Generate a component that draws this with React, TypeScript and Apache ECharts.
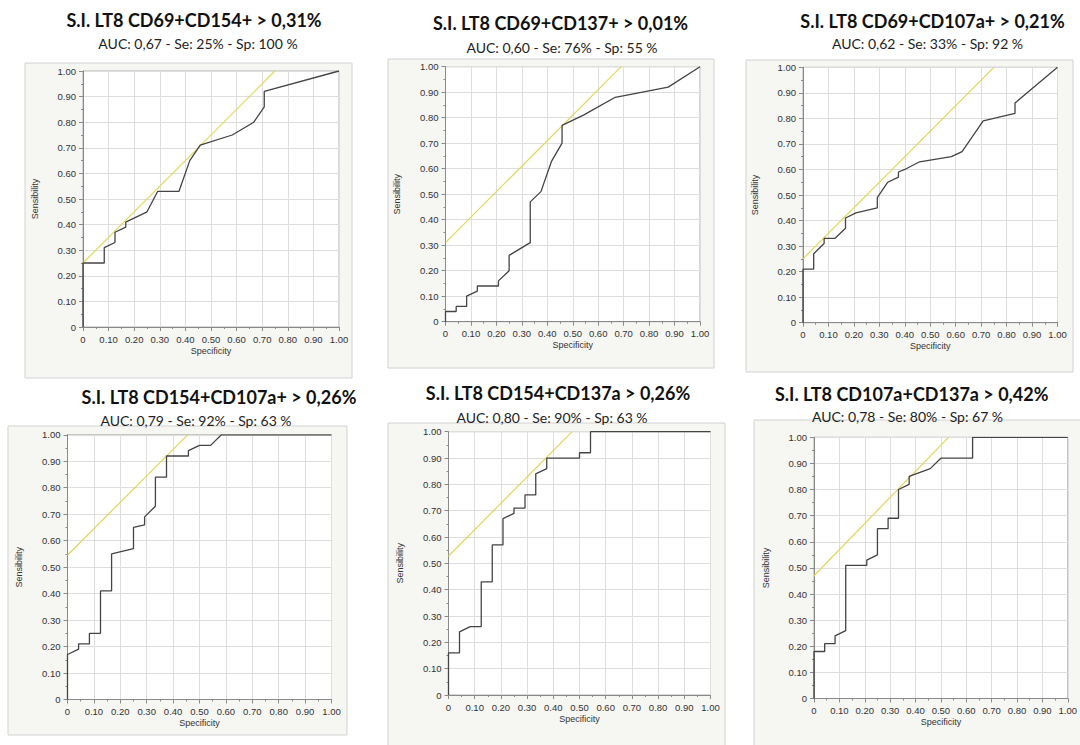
import React, { useEffect, useRef } from "react";
import * as echarts from "echarts";

const titles = [
  "S.I. LT8 CD69+CD154+ > 0,31%",
  "S.I. LT8 CD69+CD137+ > 0,01%",
  "S.I. LT8 CD69+CD107a+ > 0,21%",
  "S.I. LT8 CD154+CD107a+ > 0,26%",
  "S.I. LT8 CD154+CD137a > 0,26%",
  "S.I. LT8 CD107a+CD137a > 0,42%",
];
const subtitles = [
  "AUC: 0,67 - Se: 25% - Sp: 100 %",
  "AUC: 0,60 - Se: 76% - Sp: 55 %",
  "AUC: 0,62 - Se: 33% - Sp: 92 %",
  "AUC: 0,79 - Se: 92% - Sp: 63 %",
  "AUC: 0,80 - Se: 90% - Sp: 63 %",
  "AUC: 0,78 - Se: 80% - Sp: 67 %",
];

const roc1 = [
  [0, 0], [0, 0.25], [0.083, 0.25], [0.083, 0.31], [0.125, 0.33], [0.125, 0.37],
  [0.167, 0.39], [0.167, 0.41], [0.25, 0.45], [0.292, 0.53], [0.375, 0.53],
  [0.417, 0.65], [0.458, 0.71], [0.583, 0.75], [0.667, 0.8], [0.708, 0.86],
  [0.708, 0.92], [1, 1],
];
const roc2 = [
  [0, 0], [0, 0.04], [0.042, 0.04], [0.042, 0.06], [0.083, 0.06], [0.083, 0.1],
  [0.125, 0.12], [0.125, 0.14], [0.208, 0.14], [0.208, 0.16], [0.25, 0.2],
  [0.25, 0.26], [0.333, 0.31], [0.333, 0.47], [0.375, 0.51], [0.417, 0.63],
  [0.458, 0.7], [0.458, 0.77], [0.542, 0.81], [0.667, 0.88], [0.875, 0.92], [1, 1],
];
const roc3 = [
  [0, 0], [0, 0.21], [0.042, 0.21], [0.042, 0.27], [0.083, 0.31], [0.083, 0.33],
  [0.125, 0.33], [0.167, 0.37], [0.167, 0.41], [0.208, 0.43], [0.292, 0.45],
  [0.292, 0.49], [0.333, 0.55], [0.375, 0.57], [0.375, 0.59], [0.4, 0.6],
  [0.458, 0.63], [0.583, 0.65], [0.625, 0.67], [0.708, 0.79], [0.833, 0.82],
  [0.833, 0.86], [1, 1],
];
const roc4 = [
  [0, 0], [0, 0.17], [0.042, 0.19], [0.042, 0.21], [0.083, 0.21], [0.083, 0.25],
  [0.125, 0.25], [0.125, 0.41], [0.167, 0.41], [0.167, 0.55], [0.25, 0.57],
  [0.25, 0.65], [0.292, 0.66], [0.292, 0.69], [0.333, 0.73], [0.333, 0.84],
  [0.375, 0.84], [0.375, 0.92], [0.458, 0.92], [0.458, 0.94], [0.5, 0.96],
  [0.542, 0.96], [0.583, 1], [1, 1],
];
const roc5 = [
  [0, 0], [0, 0.16], [0.042, 0.16], [0.042, 0.24], [0.083, 0.26], [0.125, 0.26],
  [0.125, 0.43], [0.167, 0.43], [0.167, 0.57], [0.208, 0.57], [0.208, 0.67],
  [0.25, 0.69], [0.25, 0.71], [0.292, 0.71], [0.292, 0.76], [0.333, 0.76],
  [0.333, 0.84], [0.375, 0.86], [0.375, 0.9], [0.5, 0.9], [0.5, 0.92],
  [0.542, 0.92], [0.542, 1], [1, 1],
];
const roc6 = [
  [0, 0], [0, 0.18], [0.042, 0.18], [0.042, 0.21], [0.083, 0.21], [0.083, 0.24],
  [0.125, 0.26], [0.125, 0.51], [0.208, 0.51], [0.208, 0.53], [0.25, 0.55],
  [0.25, 0.65], [0.292, 0.65], [0.292, 0.69], [0.333, 0.69], [0.333, 0.8],
  [0.375, 0.82], [0.375, 0.85], [0.458, 0.88], [0.5, 0.92], [0.625, 0.92],
  [0.625, 1], [1, 1],
];
const rocs = [roc1, roc2, roc3, roc4, roc5, roc6];

// intercepts of the yellow tangent (slope 1) lines
const tangentIntercepts = [0.25, 0.31, 0.25, 0.545, 0.528, 0.47];

const axisTicks = [0, 0.1, 0.2, 0.3, 0.4, 0.5, 0.6, 0.7, 0.8, 0.9, 1];

// layout: box [x, y, w, h], grid [left, top, width, height], title [cx, cy], sub [cx, cy]
const LAYOUT = [
  { box: [25, 63, 327, 315], grid: [83, 71, 256, 256], title: [194, 20], sub: [198, 43] },
  { box: [388, 59, 326, 309], grid: [445.5, 66.7, 254.5, 255], title: [560.5, 23], sub: [562, 47.7] },
  { box: [746, 60, 327, 312], grid: [803, 67.3, 254.5, 255.4], title: [932.5, 20.7], sub: [927.5, 43.3] },
  { box: [8, 426, 339, 309], grid: [67.5, 434.8, 264, 264.7], title: [219, 396.7], sub: [196, 420] },
  { box: [388, 423, 337, 330], grid: [448.5, 431.7, 262, 263.3], title: [558, 393.3], sub: [552, 417.3] },
  { box: [754, 420, 340, 335], grid: [814, 437.3, 261, 261.2], title: [911.7, 394], sub: [907.5, 416.7] },
];

const AX_FONT = "'Liberation Sans', Arial, sans-serif";
const TITLE_FONT = "Lato, 'Open Sans', sans-serif";

export default function App() {
  const ref = useRef<HTMLDivElement>(null);
  useEffect(() => {
    if (!ref.current) return;
    const chart = echarts.init(ref.current, undefined, { renderer: "svg" });
    const fmt = (v: number) => (v === 0 ? "0" : v.toFixed(2));
    const grids: any[] = [];
    const xAxes: any[] = [];
    const yAxes: any[] = [];
    const series: any[] = [];
    const graphics: any[] = [];
    LAYOUT.forEach((L, i) => {
      graphics.push({
        type: "rect",
        z: -10,
        shape: { x: L.box[0], y: L.box[1], width: L.box[2], height: L.box[3] },
        style: { fill: "#f6f6f3", stroke: "#d2d2d2", lineWidth: 1 },
      });
      graphics.push({
        type: "text",
        x: L.title[0],
        y: L.title[1],
        style: {
          text: titles[i],
          fontFamily: TITLE_FONT,
          fontSize: 18,
          fontWeight: "bold",
          fill: "#111",
          textAlign: "center",
          textVerticalAlign: "middle",
        },
      });
      graphics.push({
        type: "text",
        x: L.sub[0],
        y: L.sub[1],
        style: {
          text: subtitles[i],
          fontFamily: TITLE_FONT,
          fontSize: 14,
          fill: "#222",
          textAlign: "center",
          textVerticalAlign: "middle",
        },
      });
      grids.push({
        left: L.grid[0],
        top: L.grid[1],
        width: L.grid[2],
        height: L.grid[3],
        show: true,
        backgroundColor: "#ffffff",
        borderColor: "#b0b0b0",
        borderWidth: 1,
      });
      const common = {
        gridIndex: i,
        type: "value",
        min: axisTicks[0],
        max: axisTicks[axisTicks.length - 1],
        interval: axisTicks[1] - axisTicks[0],
        nameLocation: "middle",
        nameTextStyle: { fontSize: 9, color: "#333", fontFamily: AX_FONT },
        axisLine: { show: true, lineStyle: { color: "#8a8a8a", width: 1 } },
        axisTick: { show: true, length: 4, lineStyle: { color: "#8a8a8a" } },
        minorTick: { show: true, splitNumber: 2, length: 2, lineStyle: { color: "#8a8a8a" } },
        axisLabel: { fontSize: 9.5, color: "#333", fontFamily: AX_FONT, formatter: fmt, margin: 7 },
        splitLine: { show: true, lineStyle: { color: "#dedede", width: 1 } },
      };
      xAxes.push({ ...common, name: "Specificity", nameGap: 19 });
      yAxes.push({ ...common, name: "Sensibility", nameGap: 44 });
      const b = tangentIntercepts[i];
      series.push({
        type: "line",
        xAxisIndex: i,
        yAxisIndex: i,
        data: [[0, b], [1 - b, 1]],
        symbol: "none",
        lineStyle: { color: "#e2d55a", width: 1.2 },
        z: 2,
      });
      series.push({
        type: "line",
        xAxisIndex: i,
        yAxisIndex: i,
        data: rocs[i],
        symbol: "none",
        lineStyle: { color: "#444444", width: 1.3 },
        z: 3,
      });
    });
    chart.setOption({
      animation: false,
      backgroundColor: "#ffffff",
      grid: grids,
      xAxis: xAxes,
      yAxis: yAxes,
      series,
      graphic: { elements: graphics },
    });
    return () => chart.dispose();
  }, []);
  return (
    <div
      ref={ref}
      style={{ position: "fixed", left: 0, top: 0, width: 1080, height: 745 }}
    />
  );
}
